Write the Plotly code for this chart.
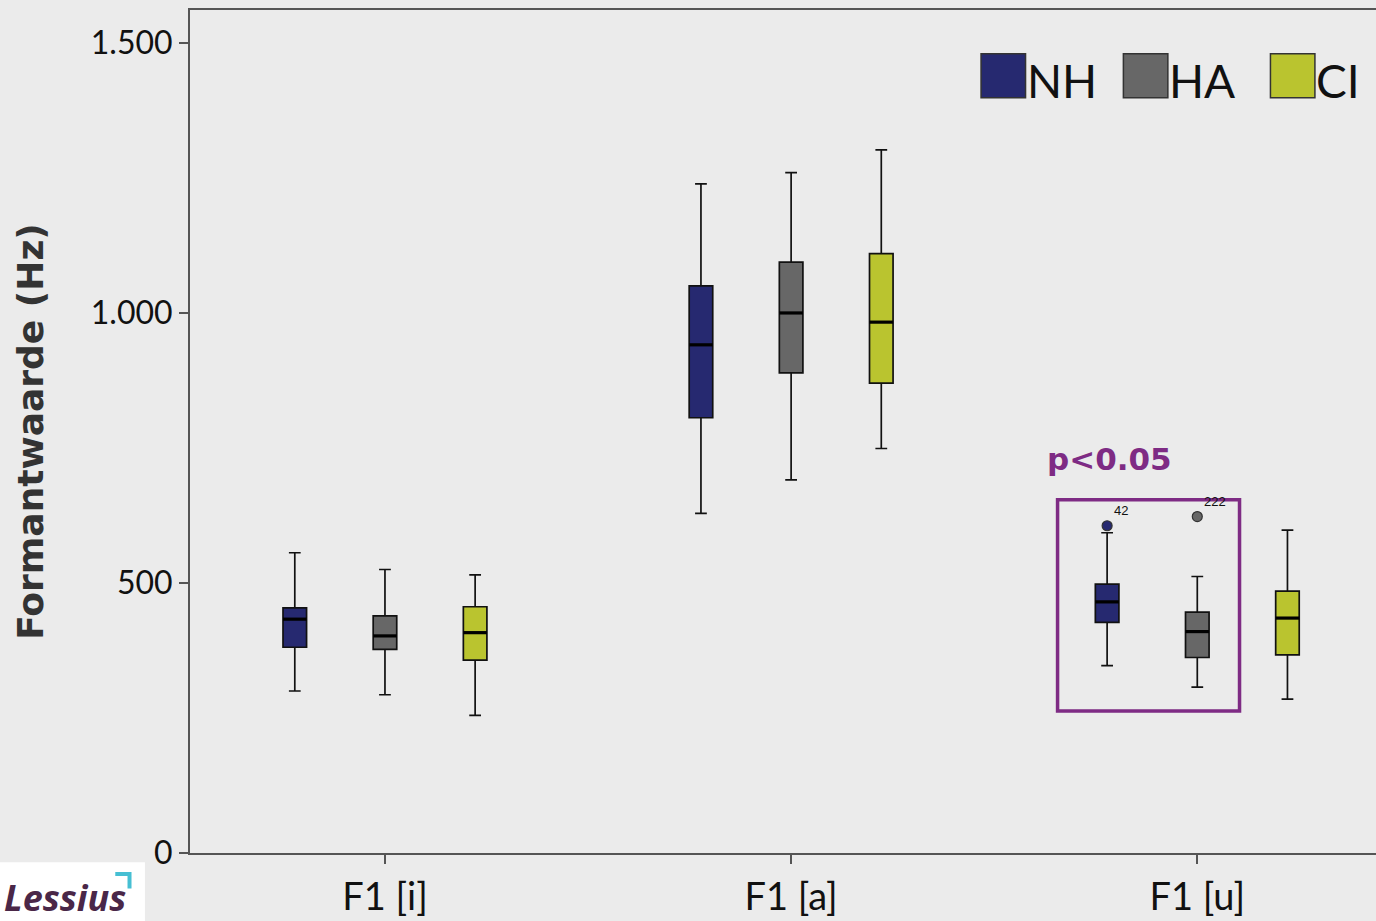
import plotly.graph_objects as go

categories = ["F1 [i]", "F1 [a]", "F1 [u]"]
groups = ["NH", "HA", "CI"]
colors = ["#262970", "#676767", "#BAC42F"]

# per group: values for each category
lower = {"NH": [300, 629, 347], "HA": [293, 691, 307], "CI": [255, 749, 285]}
q1 = {"NH": [381, 806, 427], "HA": [377, 889, 362], "CI": [357, 870, 367]}
median = {"NH": [433, 941, 465], "HA": [402, 1000, 410], "CI": [408, 983, 435]}
q3 = {"NH": [454, 1050, 498], "HA": [439, 1094, 446], "CI": [456, 1110, 485]}
upper = {"NH": [556, 1239, 593], "HA": [525, 1260, 512], "CI": [515, 1302, 598]}

outlier_group = ["NH", "HA"]
outlier_cat = [2, 2]
outlier_val = [606, 623]
outlier_label = ["42", "222"]

y_ticks = [0, 500, 1000, 1500]
y_tick_text = ["0", "500", "1.000", "1.500"]

offsets = {"NH": -0.222, "HA": 0.0, "CI": 0.222}
box_w = 0.058

fig = go.Figure()
for g, c in zip(groups, colors):
    xs = [i + offsets[g] for i in range(len(categories))]
    fig.add_trace(go.Box(
        x=xs, q1=q1[g], median=median[g], q3=q3[g],
        lowerfence=lower[g], upperfence=upper[g],
        width=box_w, whiskerwidth=0.5,
        fillcolor=c, line=dict(color="#111111", width=1.7),
        name=g, showlegend=False, boxpoints=False, hoverinfo="skip",
    ))
    # thick median lines
    mx, my = [], []
    for x, m in zip(xs, median[g]):
        mx += [x - box_w / 2, x + box_w / 2, None]
        my += [m, m, None]
    fig.add_trace(go.Scatter(x=mx, y=my, mode="lines",
                             line=dict(color="black", width=3.2),
                             showlegend=False, hoverinfo="skip"))

# outliers
for g, ci, v, lab in zip(outlier_group, outlier_cat, outlier_val, outlier_label):
    c = colors[groups.index(g)]
    x = ci + offsets[g]
    fig.add_trace(go.Scatter(x=[x], y=[v], mode="markers",
                             marker=dict(color=c, size=10, line=dict(color="#333333", width=1.2)),
                             showlegend=False, hoverinfo="skip"))
    fig.add_annotation(x=x + 0.012, y=v + 10, text=lab, showarrow=False,
                       xanchor="left", yanchor="bottom",
                       font=dict(family="Liberation Sans, Arial", size=13, color="#111111"))

# significance box for F1 [u] NH vs HA
fig.add_shape(type="rect", xref="x", yref="y",
              x0=2 + offsets["NH"] - 0.122, x1=2 + offsets["HA"] + 0.104,
              y0=263, y1=654, line=dict(color="#7E2B84", width=3.5), fillcolor="rgba(0,0,0,0)")
fig.add_annotation(xref="x", yref="y", x=2 + offsets["NH"] - 0.153, y=730,
                   text="<b>p<0.05</b>", showarrow=False, xanchor="left", yanchor="middle",
                   font=dict(family="DejaVu Sans, sans-serif", size=31, color="#7E2B84"))

# custom legend (large squares)
leg_x = [0.667, 0.787, 0.911]
for g, c, lx in zip(groups, colors, leg_x):
    fig.add_shape(type="rect", xref="paper", yref="paper",
                  x0=lx, x1=lx + 0.0375, y0=0.896, y1=0.948,
                  line=dict(color="#333333", width=1.5), fillcolor=c)
    fig.add_annotation(xref="paper", yref="paper", x=lx + 0.037, y=0.916,
                       text=g, showarrow=False, xanchor="left", yanchor="middle",
                       font=dict(family="Lato, Open Sans, sans-serif", size=46, color="#111111"))

# logo
fig.add_shape(type="rect", xref="paper", yref="paper", x0=-0.161, x1=-0.038,
              y0=-0.081, y1=-0.011, line=dict(width=0), fillcolor="white", layer="below")
fig.add_annotation(xref="paper", yref="paper", x=-0.1585, y=-0.084, text="<i><b>Lessius</b></i>",
                   showarrow=False, xanchor="left", yanchor="bottom",
                   font=dict(family="Open Sans, sans-serif", size=36, color="#4A2748"))
fig.add_shape(type="path", xref="paper", yref="paper",
              path="M -0.063,-0.025 L -0.051,-0.025 L -0.051,-0.042",
              line=dict(color="#46BFD3", width=4))

fig.update_layout(
    width=1376, height=921,
    margin=dict(l=190, r=0, t=10, b=68),
    paper_bgcolor="#EBEBEB", plot_bgcolor="#EBEBEB",
    showlegend=False,
    xaxis=dict(range=[-0.48, 2.44], tickvals=list(range(len(categories))), ticktext=categories,
               showgrid=False, zeroline=False, showline=True, linecolor="#555555", linewidth=2,
               mirror=True, ticks="outside", ticklen=9, tickwidth=2, tickcolor="#555555",
               automargin=False,
               tickfont=dict(family="Lato, Open Sans, sans-serif", size=38, color="#111111")),
    yaxis=dict(range=[0, 1561], tickvals=y_ticks, ticktext=y_tick_text,
               showgrid=False, zeroline=False, showline=True, linecolor="#555555", linewidth=2,
               ticks="outside", ticklen=9, tickwidth=2, tickcolor="#555555",
               automargin=False,
               tickfont=dict(family="Lato, Open Sans, sans-serif", size=32, color="#111111"),
               title=dict(text="<b>Formantwaarde (Hz)</b>", standoff=36,
                          font=dict(family="DejaVu Sans, sans-serif", size=36, color="#333333"))),
)

fig.write_html("out.html", config={"displayModeBar": False},
               post_script="document.body.style.margin='0';document.body.style.background='#EBEBEB';")
